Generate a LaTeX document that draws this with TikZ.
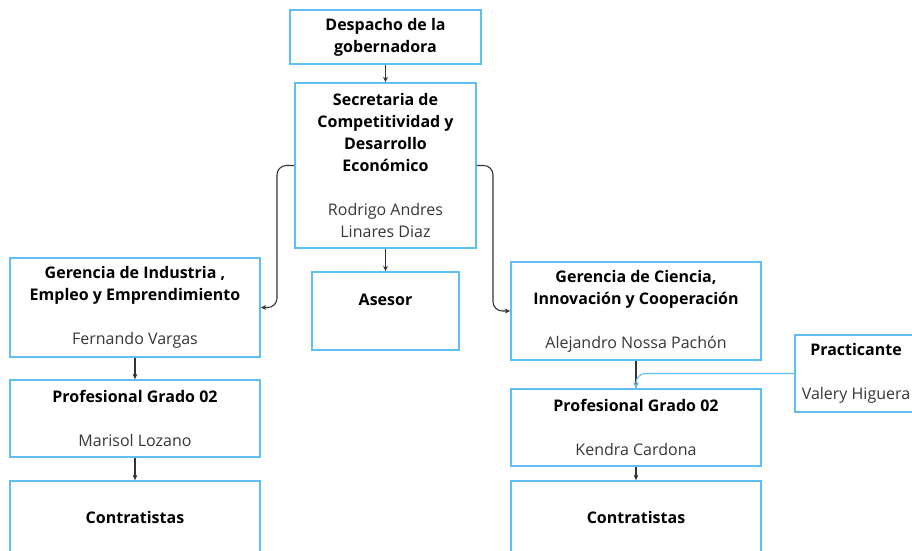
\documentclass[tikz,border=0pt]{standalone}
\usepackage{fontspec}
\setmainfont{Open Sans}
\usepackage{tikz}
\usetikzlibrary{calc,arrows.meta}
\definecolor{borde}{RGB}{95,190,242}
\definecolor{flecha}{RGB}{51,51,51}
\definecolor{nombre}{RGB}{55,55,55}

\begin{document}
\begin{tikzpicture}[x=0.75pt,y=-0.75pt,
    caja/.style={draw=borde,line width=1.3pt,fill=white,inner sep=0pt,align=center,font=\fontsize{12}{16.5}\selectfont},
    flechita/.style={draw=flecha,line width=0.8pt,-{Stealth[length=4pt,width=3.6pt]}},
    curva/.style={flechita,rounded corners=7pt}]
                      \clip (0,0) rectangle (912,550);
                      \fill[white] (0,0) rectangle (912,550);
                      % nivel superior
                      \node[caja,minimum width=143.25pt,minimum height=40.5pt] (despacho) at (385.5,37) {\textbf{Despacho de la}\\\textbf{gobernadora}};
                      \node[caja,minimum width=135.75pt,minimum height=123.75pt] (secretaria) at (385.5,165.5) {\textbf{Secretaria de}\\\textbf{Competitividad y}\\\textbf{Desarrollo}\\\textbf{Económico}\\[16.5pt]\textcolor{nombre}{Rodrigo Andres}\\\textcolor{nombre}{Linares Diaz}};
                      \node[caja,minimum width=110.25pt,minimum height=58.5pt] (asesor) at (385.5,311) {\textbf{Asesor}\\~};
                      % rama izquierda
                      \node[caja,minimum width=187.5pt,minimum height=74.25pt] (gerind) at (135,307.5) {\textbf{Gerencia de Industria ,}\\\textbf{Empleo y Emprendimiento}\\[16.5pt]\textcolor{nombre}{Fernando Vargas}};
                      \node[caja,minimum width=187.5pt,minimum height=57.75pt] (profind) at (135,418.5) {\textbf{Profesional Grado 02}\\[16.5pt]\textcolor{nombre}{Marisol Lozano}};
                      \node[caja,minimum width=187.5pt,minimum height=54pt] (contind) at (135,517) {\textbf{Contratistas}};
                      % rama derecha
                      \node[caja,minimum width=187.5pt,minimum height=73.5pt] (gercien) at (636,311) {\textbf{Gerencia de Ciencia,}\\\textbf{Innovación y Cooperación}\\[16.5pt]\textcolor{nombre}{Alejandro Nossa Pachón}};
                      \node[caja,minimum width=187.5pt,minimum height=57.75pt] (profcien) at (636,427.5) {\textbf{Profesional Grado 02}\\[16.5pt]\textcolor{nombre}{Kendra Cardona}};
                      \node[caja,minimum width=187.5pt,minimum height=54pt] (contcien) at (636,517) {\textbf{Contratistas}};
                      \node[caja,minimum width=91.5pt,minimum height=57.75pt] (practicante) at (856,373.5) {\textbf{Practicante}\\[16.5pt]\textcolor{nombre}{Valery Higuera}};
                      % conectores
                      \coordinate (codoizq) at (277,165.5);
                      \coordinate (cododer) at (493,165.5);
                      \draw[flechita] (despacho) -- (secretaria);
                      \draw[flechita] (secretaria) -- (asesor);
                      \draw[curva] (secretaria.west) -- (codoizq) |- (gerind.east);
                      \draw[curva] (secretaria.east) -- (cododer) |- (gercien.west);
                      \draw[flechita] (gerind) -- (profind);
                      \draw[flechita] (profind) -- (contind);
                      \draw[flechita] (gercien) -- (profcien);
                      \draw[flechita] (profcien) -- (contcien);
                      \draw[curva,draw=borde,{Stealth[length=4pt,width=3.6pt]}-] (profcien.north) |- (practicante.west);
\end{tikzpicture}
\end{document}
